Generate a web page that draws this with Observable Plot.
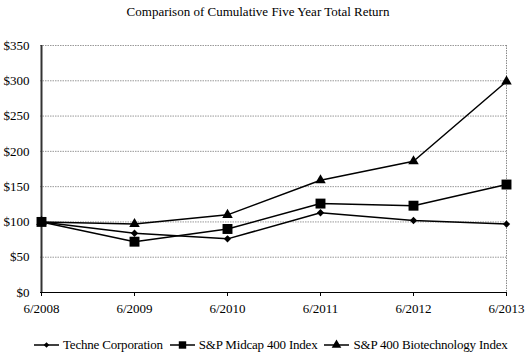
<!DOCTYPE html>
<html>
<head>
<meta charset="utf-8">
<script src="https://cdn.jsdelivr.net/npm/d3@7"></script>
<script src="https://cdn.jsdelivr.net/npm/@observablehq/plot@0.6"></script>
<style>
  html, body { margin: 0; padding: 0; background: #fff; }
  #wrap { position: relative; width: 528px; height: 353px; overflow: hidden; font-family: "Liberation Serif", "Times New Roman", serif; color: #000; }
  #title { position: absolute; top: 4px; left: 0; width: 516px; text-align: center; font-size: 13px; line-height: 16px; }
  #chart { position: absolute; top: 0; left: 0; }
  #legend { position: absolute; top: 337px; left: 34px; font-size: 13px; line-height: 16px; white-space: nowrap; display: flex; align-items: center; letter-spacing: -0.2px; }
  #legend .item { display: flex; align-items: center; margin-right: 7px; }
  #legend svg { margin-right: 4px; }
</style>
</head>
<body>
<div id="wrap">
  <div id="title">Comparison of Cumulative Five Year Total Return</div>
  <div id="chart"></div>
  <div id="legend"></div>
</div>
<script>
const periods = ["6/2008", "6/2009", "6/2010", "6/2011", "6/2012", "6/2013"];
const seriesNames = ["Techne Corporation", "S&P Midcap 400 Index", "S&P 400 Biotechnology Index"];
const techne = [100, 84, 76, 113, 102, 97];
const midcap = [100, 72, 90, 126, 123, 153];
const biotech = [100, 97, 110, 159, 186, 299];
const yTicks = [0, 50, 100, 150, 200, 250, 300, 350];
const symbols = ["diamond2", "square", "triangle"];
const symbolSizes = [3.3, 5.6, 3.9];

const allSeries = [techne, midcap, biotech];
const rows = [];
allSeries.forEach((vals, si) => {
  vals.forEach((v, i) => rows.push({series: seriesNames[si], period: periods[i], value: v}));
});

const chart = Plot.plot({
  width: 528,
  height: 320,
  marginTop: 45,
  marginBottom: 28,
  marginLeft: 40,
  marginRight: 22,
  style: {fontFamily: "'Liberation Serif', 'Times New Roman', serif", fontSize: "13px", color: "#000", background: "transparent", overflow: "visible"},
  x: {type: "point", domain: periods, padding: 0, label: null},
  y: {domain: [0, 350], label: null},
  marks: [
    Plot.gridY(yTicks.filter(d => d > 0), {stroke: "#999", strokeOpacity: 1, strokeDasharray: "1.5,1", strokeWidth: 1}),
    Plot.ruleX([periods[periods.length - 1]], {stroke: "#888", strokeDasharray: "1.5,1", strokeWidth: 1}),
    Plot.axisY({ticks: yTicks, tickSize: 0, tickPadding: 11, tickFormat: d => "$" + d, fontSize: 13, label: null}),
    Plot.axisX({tickSize: 4, tickPadding: 7, fontSize: 13, label: null, stroke: "#000"}),
    Plot.ruleY([0], {stroke: "#000", strokeWidth: 1.2}),
    Plot.ruleX([periods[0]], {stroke: "#333", strokeWidth: 2}),
    ...seriesNames.map((name, si) => Plot.line(rows.filter(r => r.series === name), {x: "period", y: "value", stroke: "#000", strokeWidth: 1.5})),
    ...seriesNames.map((name, si) => Plot.dot(rows.filter(r => r.series === name), {x: "period", y: "value", symbol: () => symbols[si], fill: "#000", stroke: "none", r: symbolSizes[si]}))
  ]
});
document.getElementById("chart").appendChild(chart);

// legend
const legend = document.getElementById("legend");
seriesNames.forEach((name, si) => {
  const item = document.createElement("div");
  item.className = "item";
  const sw = d3.create("svg").attr("width", 25).attr("height", 12);
  sw.append("line").attr("x1", 0).attr("x2", 25).attr("y1", 6).attr("y2", 6).attr("stroke", "#000").attr("stroke-width", 1.5);
  const sym = {diamond2: d3.symbolDiamond2, square: d3.symbolSquare, triangle: d3.symbolTriangle}[symbols[si]];
  const sizes = [20, 55, 40];
  sw.append("path").attr("d", d3.symbol(sym, sizes[si])()).attr("transform", "translate(12.5,6)").attr("fill", "#000");
  item.appendChild(sw.node());
  const t = document.createElement("span");
  t.textContent = name;
  item.appendChild(t);
  legend.appendChild(item);
});
</script>
</body>
</html>
